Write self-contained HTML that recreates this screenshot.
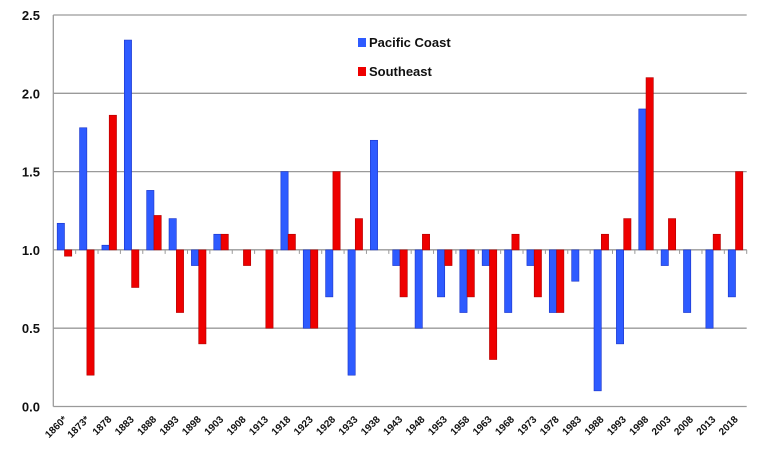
<!DOCTYPE html>
<html><head><meta charset="utf-8"><style>
body{margin:0;background:#fff;}
svg{display:block;font-family:"Liberation Sans",sans-serif;}
</style></head><body>
<svg id="chart" width="770" height="455"></svg>
<script>
const categories=["1860*","1873*","1878","1883","1888","1893","1898","1903","1908","1913","1918","1923","1928","1933","1938","1943","1948","1953","1958","1963","1968","1973","1978","1983","1988","1993","1998","2003","2008","2013","2018"];
const pacific=[1.17,1.78,1.03,2.34,1.38,1.2,0.9,1.1,1.0,1.0,1.5,0.5,0.7,0.2,1.7,0.9,0.5,0.7,0.6,0.9,0.6,0.9,0.6,0.8,0.1,0.4,1.9,0.9,0.6,0.5,0.7];
const southeast=[0.96,0.2,1.86,0.76,1.22,0.6,0.4,1.1,0.9,0.5,1.1,0.5,1.5,1.2,1.0,0.7,1.1,0.9,0.7,0.3,1.1,0.7,0.6,1.0,1.1,1.2,2.1,1.2,1.0,1.1,1.5];
const yTicks=["0.0","0.5","1.0","1.5","2.0","2.5"];
const yTickVals=[0,0.5,1,1.5,2,2.5];
const base=1.0;

const svg=document.getElementById('chart');
const NS='http://www.w3.org/2000/svg';
const L=53.3,R=746.7,T=15,B=406.5;
const bw=(R-L)/categories.length;
function y(v){return B-(v/2.5)*(B-T);}
function x(i){return L+i*bw;}
function mk(t,a){const e=document.createElementNS(NS,t);for(const k in a)e.setAttribute(k,a[k]);svg.appendChild(e);return e;}

yTickVals.forEach((v,i)=>{
  const g=mk('line',{x1:L,x2:R,y1:y(v),y2:y(v),stroke:'#9a9a9a','stroke-width':1.3});
  
  
  const t=mk('text',{x:40,y:y(v)+5,'text-anchor':'end','font-size':13,'font-weight':'bold',fill:'#111'});
  t.textContent=yTicks[i];
  
  
});
const ax=mk('line',{x1:L,x2:L,y1:T,y2:B,stroke:'#9a9a9a','stroke-width':1.3});


const hx=mk('line',{x1:L,x2:R,y1:y(base),y2:y(base),stroke:'#9a9a9a','stroke-width':1.3});



const barW=7.3;
categories.forEach((c,i)=>{
  const cx=x(i)+bw/2;
  const tk=mk('line',{x1:x(i+1),x2:x(i+1),y1:y(base),y2:y(base)+4,stroke:'#9a9a9a','stroke-width':1});
  
  
  [[pacific[i],'#2e5bff','#1a33c8',cx-barW,'bar-pacific'],[southeast[i],'#ee0000','#b00000',cx,'bar-southeast']].forEach(([v,f,s,bx,n])=>{
    if(v===base)return;
    const y0=Math.min(y(v),y(base)),h=Math.abs(y(v)-y(base));
    const r=mk('rect',{x:bx,y:y0,width:barW,height:h,fill:f,stroke:s,'stroke-width':0.6});
    
    
  });
  const t=mk('text',{x:cx+3,y:420,'text-anchor':'end','font-size':10,'font-weight':'bold',fill:'#111',transform:`rotate(-45 ${cx+3} 420)`});
  t.textContent=c;
  
  
});

const leg=[['Pacific Coast','#2e5bff',38],['Southeast','#ee0000',67]];
leg.forEach(([n,c,yy])=>{
  const r=mk('rect',{x:358,y:yy,width:8,height:9,fill:c});
  
  
  const t=mk('text',{x:369,y:yy+9,'font-size':13,'font-weight':'bold',fill:'#111'});
  t.textContent=n;
  
  
});
</script>
</body></html>
